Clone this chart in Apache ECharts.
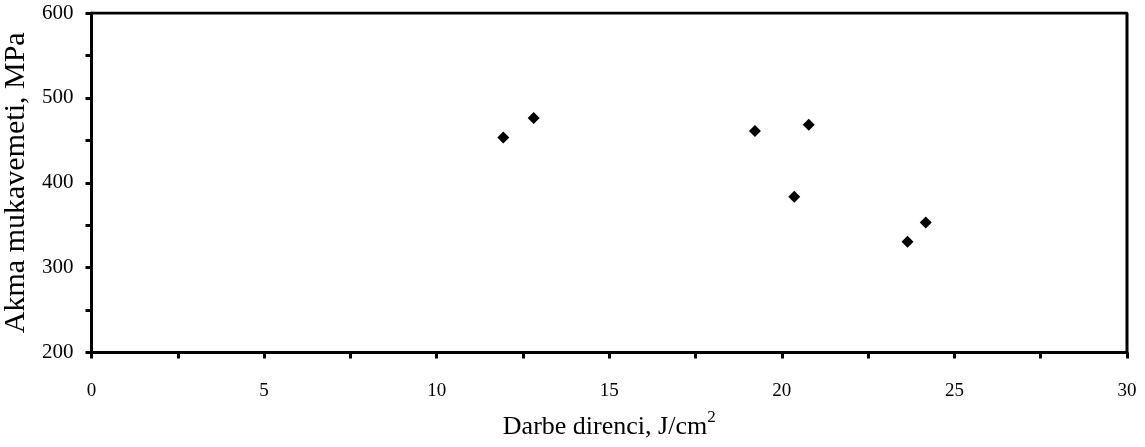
<!DOCTYPE html>
<html><head><meta charset="utf-8">
<script src="https://cdn.jsdelivr.net/npm/echarts@6/dist/echarts.min.js"></script>
<style>html,body{margin:0;padding:0;background:#fff}#c{width:1145px;height:447px}</style>
</head><body><div id="c"></div>
<script>
const xValues = [11.93, 12.81, 19.22, 20.78, 20.36, 23.64, 24.17];
const yValues = [453.3, 476.4, 461.1, 468.2, 383.4, 330.4, 353.3];
const xTitle = 'Darbe direnci, J/cm';
const yTitle = 'Akma mukavemeti, MPa';

const chart = echarts.init(document.getElementById('c'), null, {renderer:'canvas'});
const font = 'Liberation Serif';
chart.setOption({
  animation:false,
  backgroundColor:'#fff',
  grid:{left:91.5, right:18, top:13, bottom:94.5, containLabel:false, outerBoundsMode:'none'},
  xAxis:{
    type:'value', min:0, max:30, interval:5,
    name: '{t|' + xTitle + '}{s|2}',
    nameLocation:'middle', nameGap:57,
    nameTextStyle:{rich:{
      t:{fontFamily:font, fontSize:26, color:'#000', verticalAlign:'bottom'},
      s:{fontFamily:font, fontSize:17, color:'#000', verticalAlign:'top', padding:[0,0,14,0]}
    }},
    axisLine:{show:true, onZero:false, lineStyle:{color:'#000', width:3}},
    axisTick:{show:true, inside:false, length:6, lineStyle:{color:'#000', width:3}},
    minorTick:{show:true, splitNumber:2, length:6, lineStyle:{color:'#000', width:3}},
    axisLabel:{fontFamily:font, fontSize:19, color:'#000', margin:29},
    splitLine:{show:false}
  },
  yAxis:{
    type:'value', min:200, max:600, interval:100,
    name: yTitle, nameLocation:'middle', nameGap:59,
    nameTextStyle:{fontFamily:font, fontSize:30, color:'#000'},
    axisLine:{show:true, onZero:false, lineStyle:{color:'#000', width:3}},
    axisTick:{show:true, inside:false, length:6, lineStyle:{color:'#000', width:3}},
    minorTick:{show:true, splitNumber:2, length:6, lineStyle:{color:'#000', width:3}},
    axisLabel:{fontFamily:font, fontSize:21, color:'#000', margin:18},
    splitLine:{show:false}
  },
  series:[{
    type:'scatter',
    data: xValues.map((x,i)=>[x, yValues[i]]),
    symbol:'diamond', symbolSize:[12,12],
    itemStyle:{color:'#000', opacity:1}
  },{
    type:'line', data:[[0,600],[30,600],[30,200]], symbol:'none', silent:true,
    lineStyle:{color:'#000', width:3}
  }]
});
</script></body></html>
